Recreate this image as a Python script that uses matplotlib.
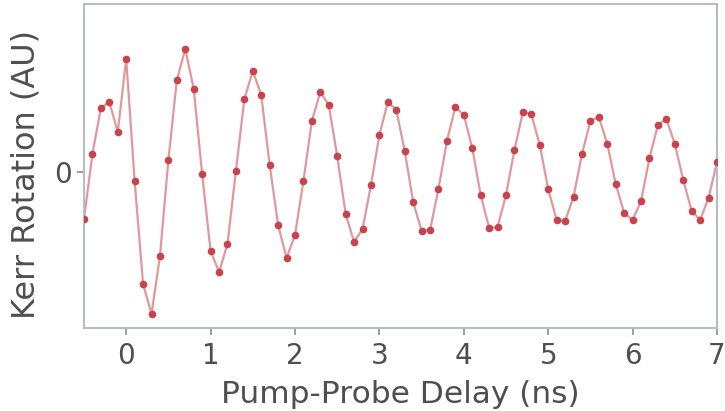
import numpy as np
import matplotlib
matplotlib.use("Agg")
import matplotlib.pyplot as plt

# delay axis, 0.1 ns steps from -0.5 to 7.0
delay_start = -0.5
delay_step = 0.1
kerr = [
    -0.47, 0.18, 0.64, 0.70, 0.40, 1.13, -0.09, -1.12, -1.42, -0.84,
    0.12, 0.92, 1.23, 0.83, -0.02, -0.79, -1.00, -0.72, 0.01, 0.73,
    1.01, 0.77, 0.07, -0.53, -0.86, -0.63, -0.09, 0.51, 0.80, 0.67,
    0.16, -0.42, -0.70, -0.57, -0.13, 0.37, 0.70, 0.62, 0.21, -0.30,
    -0.59, -0.58, -0.17, 0.31, 0.65, 0.57, 0.24, -0.23, -0.56, -0.55,
    -0.23, 0.22, 0.60, 0.58, 0.27, -0.17, -0.48, -0.49, -0.25, 0.18,
    0.51, 0.55, 0.28, -0.12, -0.41, -0.48, -0.29, 0.14, 0.47, 0.53,
    0.28, -0.08, -0.39, -0.48, -0.26, 0.10,
]
xticks = [0, 1, 2, 3, 4, 5, 6, 7]

delay = delay_start + delay_step * np.arange(len(kerr))

txt = "#4f4f4f"
plt.rcParams["font.family"] = "DejaVu Sans"
plt.rcParams["font.size"] = 20

fig = plt.figure(figsize=(7.25, 4.11), dpi=100)
ax = fig.add_axes([84 / 725, 1 - 328 / 411, (717 - 84) / 725, (328 - 4) / 411])

red = "#c8434c"
ax.plot(delay, kerr, "-", color=red, alpha=0.55, lw=1.6, zorder=2)
ax.plot(delay, kerr, "o", color=red, ms=5.5, mec="none", zorder=3)

ax.set_xlim(-0.5, 7.0)
ax.set_ylim(-1.56, 1.68)
ax.set_xticks(xticks)
ax.set_yticks([0])
ax.set_xlabel("Pump-Probe Delay (ns)", color=txt, fontsize=22.5, labelpad=7)
ax.set_ylabel("Kerr Rotation (AU)", color=txt, fontsize=23, labelpad=9)
ax.yaxis.label.set_y(0.474)

for s in ax.spines.values():
    s.set_color("#b8bcc4")
    s.set_linewidth(1.5)
ax.tick_params(colors="#8a8e96", labelcolor=txt, length=5, width=1.2, direction="out")
ax.tick_params(axis="x", pad=5)

fig.savefig("out.png", dpi=100)
